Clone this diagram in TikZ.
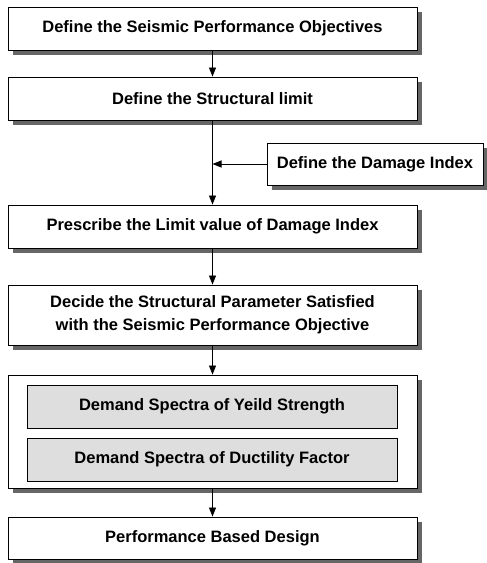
\documentclass[tikz,border=0pt]{standalone}
\usepackage{fontspec}
\setmainfont{Liberation Sans}
\usetikzlibrary{arrows.meta}
\begin{document}
\begin{tikzpicture}[x=1pt,y=-1pt,
  box/.style={draw=black,line width=0.9pt,fill=white,inner sep=0pt,
    align=center,font=\bfseries\fontsize{16.5}{23}\selectfont},
  ibox/.style={draw=black,line width=0.9pt,fill=black!13,inner sep=0pt,
    align=center,font=\bfseries\fontsize{16.5}{23}\selectfont},
  shad/.style={fill=black!60},
  arr/.style={line width=0.8pt,-{Triangle[length=9pt,width=7pt]}}]
\useasboundingbox (0,0) rectangle (487,563);
\fill[shad] (12.5,11.5) rectangle (421.5,54.5);
\fill[shad] (12.5,81.5) rectangle (421.5,124.5);
\fill[shad] (271.5,147.5) rectangle (487,189.5);
\fill[shad] (12.5,209.5) rectangle (421.5,252.5);
\fill[shad] (12.5,289.5) rectangle (421.5,349.5);
\fill[shad] (12.5,379.5) rectangle (421.5,492.5);
\fill[shad] (12.5,521.5) rectangle (421.5,563);
\node[box,minimum width=409pt,minimum height=43pt] (b1) at (212.5,28.5) {Define the Seismic Performance Objectives};
\node[box,minimum width=409pt,minimum height=43pt] (b2) at (212.5,98.5) {Define the Structural limit};
\node[box,minimum width=216pt,minimum height=42pt] (di) at (375,164) {Define the Damage Index};
\node[box,minimum width=409pt,minimum height=43pt] (b3) at (212.5,226.5) {Prescribe the Limit value of Damage Index};
\node[box,minimum width=409pt,minimum height=60pt] (b4) at (212.5,315) {Decide the Structural Parameter Satisfied\\with the Seismic Performance Objective};
\node[box,minimum width=409pt,minimum height=113pt] (b5) at (212.5,431.5) {};
\node[ibox,minimum width=370pt,minimum height=43pt] (i1) at (212,406.5) {Demand Spectra of Yeild Strength};
\node[ibox,minimum width=370pt,minimum height=43pt] (i2) at (212,459.5) {Demand Spectra of Ductility Factor};
\node[box,minimum width=409pt,minimum height=42pt] (b6) at (212.5,538) {Performance Based Design};
\coordinate (j) at (b2.south |- di.west);
\draw[arr] (b1.south) -- (b2.north);
\draw[arr] (b2.south) -- (b3.north);
\draw[arr] (di.west) -- (j);
\draw[arr] (b3.south) -- (b4.north);
\draw[arr] (b4.south) -- (b5.north);
\draw[arr] (b5.south) -- (b6.north);
\end{tikzpicture}
\end{document}
